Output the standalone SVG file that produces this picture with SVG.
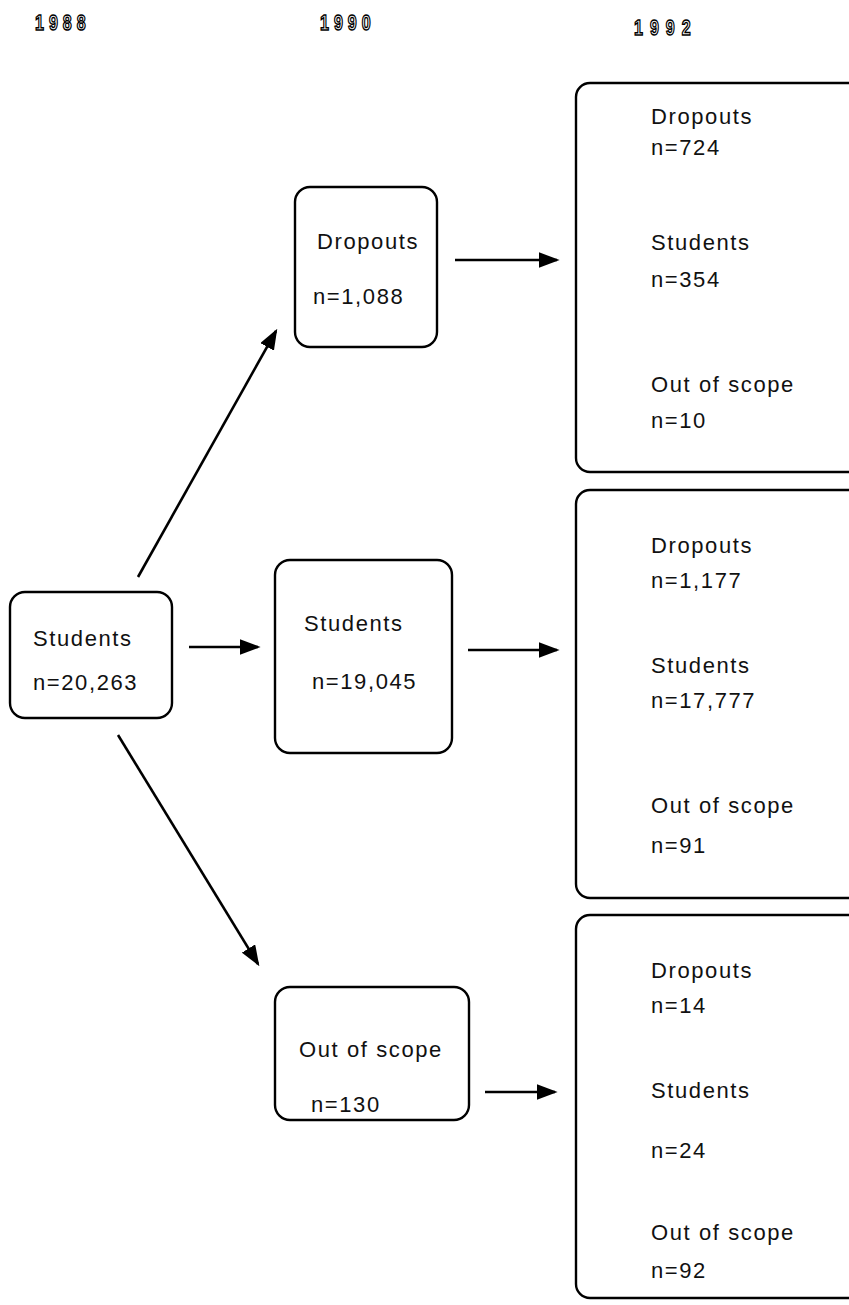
<svg xmlns="http://www.w3.org/2000/svg" width="849" height="1305" viewBox="0 0 849 1305">
<style>
.box{fill:#fff;stroke:#000;stroke-width:2.4}
.t{font-family:"Liberation Sans",Arial,sans-serif;font-size:22px;letter-spacing:1.6px;fill:#111}
.yr{font-family:"Liberation Sans",Arial,sans-serif;font-size:16px;font-weight:bold;letter-spacing:5px;fill:#fff;stroke:#000;stroke-width:1.1}
.c{stroke:#000;stroke-width:2.6;fill:none;marker-end:url(#ah)}
</style>
<defs>
<marker id="ah" markerWidth="8" markerHeight="6" refX="7" refY="3" orient="auto" markerUnits="strokeWidth">
<path d="M0,0 L8,3 L0,6 z" fill="#000"/>
</marker>
</defs>
<rect width="849" height="1305" fill="#fff"/>
<g id="years">
<text class="yr" transform="translate(35,30) scale(1,1.35)">1988</text>
<text class="yr" transform="translate(320,30) scale(1,1.35)">1990</text>
<text class="yr" transform="translate(634,35) scale(1,1.35)" style="letter-spacing:7px">1992</text>
</g>
<g id="connectors">
<line class="c" x1="138" y1="577" x2="276" y2="331"/>
<line class="c" x1="189" y1="647" x2="258" y2="647"/>
<line class="c" x1="118" y1="735" x2="258" y2="964"/>
<line class="c" x1="455" y1="260" x2="557" y2="260"/>
<line class="c" x1="468" y1="650" x2="557" y2="650"/>
<line class="c" x1="485" y1="1092" x2="555" y2="1092"/>
</g>
<g id="n1988">
<rect class="box" x="10" y="592" width="162" height="126" rx="15"/>
<text class="t" x="33" y="646">Students</text>
<text class="t" x="33" y="690">n=20,263</text>
</g>
<g id="n1990-dropouts">
<rect class="box" x="295" y="187" width="142" height="160" rx="15"/>
<text class="t" x="317" y="249">Dropouts</text>
<text class="t" x="313" y="304">n=1,088</text>
</g>
<g id="n1990-students">
<rect class="box" x="275" y="560" width="177" height="193" rx="15"/>
<text class="t" x="304" y="631">Students</text>
<text class="t" x="312" y="689">n=19,045</text>
</g>
<g id="n1990-outofscope">
<rect class="box" x="275" y="987" width="194" height="133" rx="15"/>
<text class="t" x="299" y="1057">Out of scope</text>
<text class="t" x="311" y="1112">n=130</text>
</g>
<g id="n1992-from-dropouts">
<rect class="box" x="576" y="83" width="290" height="389" rx="14"/>
<text class="t" x="651" y="124">Dropouts</text>
<text class="t" x="651" y="155">n=724</text>
<text class="t" x="651" y="250">Students</text>
<text class="t" x="651" y="287">n=354</text>
<text class="t" x="651" y="392">Out of scope</text>
<text class="t" x="651" y="428">n=10</text>
</g>
<g id="n1992-from-students">
<rect class="box" x="576" y="490" width="290" height="408" rx="14"/>
<text class="t" x="651" y="553">Dropouts</text>
<text class="t" x="651" y="588">n=1,177</text>
<text class="t" x="651" y="673">Students</text>
<text class="t" x="651" y="708">n=17,777</text>
<text class="t" x="651" y="813">Out of scope</text>
<text class="t" x="651" y="853">n=91</text>
</g>
<g id="n1992-from-outofscope">
<rect class="box" x="576" y="915" width="290" height="383" rx="14"/>
<text class="t" x="651" y="978">Dropouts</text>
<text class="t" x="651" y="1013">n=14</text>
<text class="t" x="651" y="1098">Students</text>
<text class="t" x="651" y="1158">n=24</text>
<text class="t" x="651" y="1240">Out of scope</text>
<text class="t" x="651" y="1278">n=92</text>
</g>
</svg>
